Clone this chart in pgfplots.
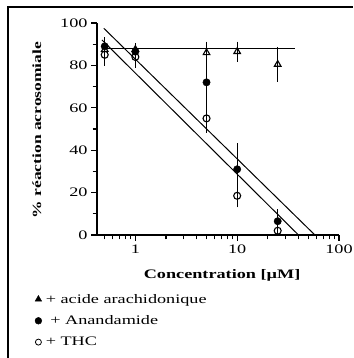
\documentclass[border=0pt]{standalone}
\usepackage{fontspec}
\setmainfont[FakeStretch=1.4]{Liberation Serif}
\usepackage{pgfplots}
\pgfplotsset{compat=1.18}
\pgfplotstableread{
x y e
0.5 87.5 2
1 87.5 2
5 86 4
10 86.5 3.5
25 80.5 7
}\arach
\pgfplotstableread{
x y e
0.5 89 3
1 86.5 2.5
5 72 9
10 31 11
25 6.5 4.5
}\anand
\pgfplotstableread{
x y e
0.5 85 4
1 84 4
5 55 5.5
10 18.5 4.3
25 2 2
}\thc
\begin{document}
\begin{tikzpicture}[x=1pt,y=1pt]
\useasboundingbox (0,0) rectangle (353,358);
\draw[line width=1.3pt] (8,0) -- (8,351) -- (353,351);
\begin{axis}[
  at={(97pt,123pt)}, anchor=south west,
  scale only axis, width=242pt, height=212pt,
  xmode=log, xmin=0.42, xmax=100,
  ymin=0, ymax=100,
  axis lines*=left,
  xtick={1,10,100}, xticklabels={1,10,100},
  minor xtick={0.5,0.6,0.7,0.8,0.9,2,3,4,5,6,7,8,9,20,30,40,50,60,70,80,90},
  ytick={0,20,...,100}, minor ytick={10,30,50,70,90},
  tick align=outside,
  major tick length=6pt, minor tick length=4.5pt,
  major tick style={line width=1.2pt, black},
  minor tick style={line width=1.1pt, black},
  axis line style={line width=1.2pt},
  tick label style={font=\fontsize{13}{13}\selectfont},
  /pgf/number format/assume math mode=true,
  xlabel={Concentration [µM]}, ylabel={\% réaction acrosomiale},
  label style={font=\bfseries\fontsize{13}{14}\selectfont},
  ylabel style={font=\bfseries\fontsize{12.5}{14}\selectfont},
  xlabel style={at={(axis description cs:0.517,-0.189)}, anchor=center},
  ylabel style={at={(axis description cs:-0.248,0.495)}, anchor=center},
  legend style={at={(axis description cs:-0.257,-0.268)}, anchor=north west,
    draw=none, fill=none, inner sep=0pt, row sep=7pt, column sep=2pt,
    font=\fontsize{13}{13}\selectfont},
  legend cell align=left,
  error bars/error bar style={line width=0.9pt},
  error bars/error mark options={line width=0.9pt, mark size=2.5pt},
]
\addlegendimage{only marks, mark=triangle*, mark size=3.8pt, black}
\addlegendentry{+ acide arachidonique}
\addlegendimage{only marks, mark=*, mark size=3.4pt, black}
\addlegendentry{\ + Anandamide}
\addlegendimage{only marks, mark=o, mark size=3pt, black, thick}
\addlegendentry{+ THC}
\addplot[line width=1pt, forget plot] coordinates {(0.5,88) (37,88)};
\addplot[line width=1pt, forget plot] coordinates {(0.49,97.5) (58,0)};
\addplot[line width=1pt, forget plot] coordinates {(0.47,92) (40,0)};
\addplot[only marks, mark=o, mark size=3.5pt, mark options={fill=white, line width=1.1pt}, black, forget plot,
  error bars/.cd, y dir=both, y explicit] table[x=x, y=y, y error=e] {\thc};
\addplot[only marks, mark=*, mark size=3.7pt, black, forget plot,
  error bars/.cd, y dir=both, y explicit] table[x=x, y=y, y error=e] {\anand};
\addplot[only marks, mark=triangle, mark size=3.8pt, mark options={fill=white, line width=1.1pt}, black, forget plot,
  error bars/.cd, y dir=both, y explicit] table[x=x, y=y, y error=e] {\arach};
\end{axis}
\end{tikzpicture}
\end{document}
